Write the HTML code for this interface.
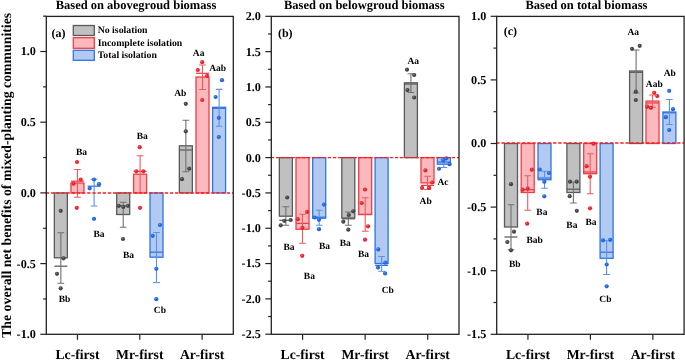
<!DOCTYPE html><html><head><meta charset="utf-8"><style>html,body{margin:0;padding:0;background:#fff;}svg{display:block;will-change:transform;}text{font-family:"Liberation Serif",serif;font-weight:bold;fill:#000;text-rendering:geometricPrecision;}</style></head><body>
<svg width="685" height="360" viewBox="0 0 685 360">
<rect x="0" y="0" width="685" height="360" fill="#fff"/>
<text transform="translate(10.6,175.35) rotate(-90)" text-anchor="middle" font-size="13.8">The overall net benefits of mixed-planting communities</text>
<text x="55.7" y="9.0" font-size="12.5">Based on abovegroud biomass</text>
<text x="51.5" y="37.4" font-size="12">(a)</text>
<rect x="54.35" y="192.90" width="13.0" height="64.90" fill="#c0c0c0" stroke="#5a5a5a" stroke-width="1.3"/>
<line x1="54.35" x2="67.35" y1="266.2" y2="266.2" stroke="#5a5a5a" stroke-width="1.25"/>
<path d="M60.85 232.8V283.3M57.50 232.8H64.20M57.50 283.3H64.20" stroke="#707070" stroke-width="1.1" fill="none"/>
<circle cx="60.7" cy="210.8" r="2.1" fill="#444444"/><circle cx="60.20" cy="210.20" r="0.75" fill="#fff" fill-opacity="0.3"/>
<circle cx="63.5" cy="258.3" r="2.1" fill="#444444"/><circle cx="63.00" cy="257.70" r="0.75" fill="#fff" fill-opacity="0.3"/>
<circle cx="57" cy="273.8" r="2.1" fill="#444444"/><circle cx="56.50" cy="273.20" r="0.75" fill="#fff" fill-opacity="0.3"/>
<circle cx="60.7" cy="288.3" r="2.1" fill="#444444"/><circle cx="60.20" cy="287.70" r="0.75" fill="#fff" fill-opacity="0.3"/>
<text x="58.7" y="302.2" font-size="9.5">Bb</text>
<rect x="70.95" y="183.00" width="13.0" height="9.90" fill="#fcb9bd" stroke="#ee3d47" stroke-width="1.3"/>
<line x1="70.95" x2="83.95" y1="181.2" y2="181.2" stroke="#ee3d47" stroke-width="1.25"/>
<path d="M77.45 169.5V197.2M74.10 169.5H80.80M74.10 197.2H80.80" stroke="#f0585e" stroke-width="1.1" fill="none"/>
<circle cx="77" cy="162" r="2.1" fill="#e8232c"/><circle cx="76.50" cy="161.40" r="0.75" fill="#fff" fill-opacity="0.3"/>
<circle cx="80.7" cy="179.5" r="2.1" fill="#e8232c"/><circle cx="80.20" cy="178.90" r="0.75" fill="#fff" fill-opacity="0.3"/>
<circle cx="73.5" cy="183.7" r="2.1" fill="#e8232c"/><circle cx="73.00" cy="183.10" r="0.75" fill="#fff" fill-opacity="0.3"/>
<circle cx="76.8" cy="207.8" r="2.1" fill="#e8232c"/><circle cx="76.30" cy="207.20" r="0.75" fill="#fff" fill-opacity="0.3"/>
<text x="76.0" y="154.7" font-size="9.5">Ba</text>
<line x1="87.60" x2="100.60" y1="186.2" y2="186.2" stroke="#2f74e0" stroke-width="1.25"/>
<path d="M94.10 179.2V206.0M90.75 179.2H97.45M90.75 206.0H97.45" stroke="#5b93ea" stroke-width="1.1" fill="none"/>
<circle cx="94" cy="179.5" r="2.1" fill="#1f66e2"/><circle cx="93.50" cy="178.90" r="0.75" fill="#fff" fill-opacity="0.3"/>
<circle cx="99" cy="184.2" r="2.1" fill="#1f66e2"/><circle cx="98.50" cy="183.60" r="0.75" fill="#fff" fill-opacity="0.3"/>
<circle cx="89.7" cy="188.3" r="2.1" fill="#1f66e2"/><circle cx="89.20" cy="187.70" r="0.75" fill="#fff" fill-opacity="0.3"/>
<circle cx="94" cy="218.8" r="2.1" fill="#1f66e2"/><circle cx="93.50" cy="218.20" r="0.75" fill="#fff" fill-opacity="0.3"/>
<text x="93.5" y="236.7" font-size="9.5">Ba</text>
<rect x="116.70" y="192.90" width="13.0" height="21.60" fill="#c0c0c0" stroke="#5a5a5a" stroke-width="1.3"/>
<line x1="116.70" x2="129.70" y1="205.8" y2="205.8" stroke="#5a5a5a" stroke-width="1.25"/>
<path d="M123.20 202.2V227.2M119.85 202.2H126.55M119.85 227.2H126.55" stroke="#707070" stroke-width="1.1" fill="none"/>
<circle cx="118.8" cy="205.8" r="2.1" fill="#444444"/><circle cx="118.30" cy="205.20" r="0.75" fill="#fff" fill-opacity="0.3"/>
<circle cx="123.3" cy="207" r="2.1" fill="#444444"/><circle cx="122.80" cy="206.40" r="0.75" fill="#fff" fill-opacity="0.3"/>
<circle cx="128" cy="205.8" r="2.1" fill="#444444"/><circle cx="127.50" cy="205.20" r="0.75" fill="#fff" fill-opacity="0.3"/>
<circle cx="123" cy="239" r="2.1" fill="#444444"/><circle cx="122.50" cy="238.40" r="0.75" fill="#fff" fill-opacity="0.3"/>
<text x="123.0" y="258.3" font-size="9.5">Ba</text>
<rect x="133.60" y="174.20" width="13.0" height="18.70" fill="#fcb9bd" stroke="#ee3d47" stroke-width="1.3"/>
<line x1="133.60" x2="146.60" y1="171.3" y2="171.3" stroke="#ee3d47" stroke-width="1.25"/>
<path d="M140.10 155.8V192.6M136.75 155.8H143.45M136.75 192.6H143.45" stroke="#f0585e" stroke-width="1.1" fill="none"/>
<circle cx="139.7" cy="147.2" r="2.1" fill="#e8232c"/><circle cx="139.20" cy="146.60" r="0.75" fill="#fff" fill-opacity="0.3"/>
<circle cx="136.3" cy="171.3" r="2.1" fill="#e8232c"/><circle cx="135.80" cy="170.70" r="0.75" fill="#fff" fill-opacity="0.3"/>
<circle cx="143.3" cy="171.3" r="2.1" fill="#e8232c"/><circle cx="142.80" cy="170.70" r="0.75" fill="#fff" fill-opacity="0.3"/>
<circle cx="140" cy="207.8" r="2.1" fill="#e8232c"/><circle cx="139.50" cy="207.20" r="0.75" fill="#fff" fill-opacity="0.3"/>
<text x="136.7" y="138.7" font-size="9.5">Ba</text>
<rect x="150.00" y="192.90" width="13.0" height="64.30" fill="#b2c9f1" stroke="#2f74e0" stroke-width="1.3"/>
<line x1="150.00" x2="163.00" y1="252.2" y2="252.2" stroke="#2f74e0" stroke-width="1.25"/>
<path d="M156.50 232.5V282.5M153.15 232.5H159.85M153.15 282.5H159.85" stroke="#5b93ea" stroke-width="1.1" fill="none"/>
<circle cx="160" cy="225" r="2.1" fill="#1f66e2"/><circle cx="159.50" cy="224.40" r="0.75" fill="#fff" fill-opacity="0.3"/>
<circle cx="152.7" cy="235.8" r="2.1" fill="#1f66e2"/><circle cx="152.20" cy="235.20" r="0.75" fill="#fff" fill-opacity="0.3"/>
<circle cx="156.3" cy="268.8" r="2.1" fill="#1f66e2"/><circle cx="155.80" cy="268.20" r="0.75" fill="#fff" fill-opacity="0.3"/>
<circle cx="156.3" cy="299.2" r="2.1" fill="#1f66e2"/><circle cx="155.80" cy="298.60" r="0.75" fill="#fff" fill-opacity="0.3"/>
<text x="153.8" y="313.3" font-size="9.5">Cb</text>
<rect x="179.35" y="145.80" width="13.0" height="47.10" fill="#c0c0c0" stroke="#5a5a5a" stroke-width="1.3"/>
<line x1="179.35" x2="192.35" y1="150.0" y2="150.0" stroke="#5a5a5a" stroke-width="1.25"/>
<path d="M185.85 120.3V171.7M182.50 120.3H189.20M182.50 171.7H189.20" stroke="#707070" stroke-width="1.1" fill="none"/>
<circle cx="185.8" cy="103.8" r="2.1" fill="#444444"/><circle cx="185.30" cy="103.20" r="0.75" fill="#fff" fill-opacity="0.3"/>
<circle cx="185.8" cy="131.3" r="2.1" fill="#444444"/><circle cx="185.30" cy="130.70" r="0.75" fill="#fff" fill-opacity="0.3"/>
<circle cx="189.2" cy="168.7" r="2.1" fill="#444444"/><circle cx="188.70" cy="168.10" r="0.75" fill="#fff" fill-opacity="0.3"/>
<circle cx="182" cy="179.2" r="2.1" fill="#444444"/><circle cx="181.50" cy="178.60" r="0.75" fill="#fff" fill-opacity="0.3"/>
<text x="174.2" y="95.5" font-size="9.5">Ab</text>
<rect x="196.00" y="77.00" width="13.0" height="115.90" fill="#fcb9bd" stroke="#ee3d47" stroke-width="1.3"/>
<line x1="196.00" x2="209.00" y1="73.3" y2="73.3" stroke="#ee3d47" stroke-width="1.25"/>
<path d="M202.50 65.0V89.5M199.15 65.0H205.85M199.15 89.5H205.85" stroke="#f0585e" stroke-width="1.1" fill="none"/>
<circle cx="202.2" cy="62.2" r="2.1" fill="#e8232c"/><circle cx="201.70" cy="61.60" r="0.75" fill="#fff" fill-opacity="0.3"/>
<circle cx="197.8" cy="70" r="2.1" fill="#e8232c"/><circle cx="197.30" cy="69.40" r="0.75" fill="#fff" fill-opacity="0.3"/>
<circle cx="207" cy="75.8" r="2.1" fill="#e8232c"/><circle cx="206.50" cy="75.20" r="0.75" fill="#fff" fill-opacity="0.3"/>
<circle cx="202.2" cy="100" r="2.1" fill="#e8232c"/><circle cx="201.70" cy="99.40" r="0.75" fill="#fff" fill-opacity="0.3"/>
<text x="192.8" y="55.8" font-size="9.5">Aa</text>
<rect x="212.60" y="107.30" width="13.0" height="85.60" fill="#b2c9f1" stroke="#2f74e0" stroke-width="1.3"/>
<line x1="212.60" x2="225.60" y1="108.3" y2="108.3" stroke="#2f74e0" stroke-width="1.25"/>
<path d="M219.10 89.4V126.2M215.75 89.4H222.45M215.75 126.2H222.45" stroke="#5b93ea" stroke-width="1.1" fill="none"/>
<circle cx="222" cy="80.2" r="2.1" fill="#1f66e2"/><circle cx="221.50" cy="79.60" r="0.75" fill="#fff" fill-opacity="0.3"/>
<circle cx="215.6" cy="97" r="2.1" fill="#1f66e2"/><circle cx="215.10" cy="96.40" r="0.75" fill="#fff" fill-opacity="0.3"/>
<circle cx="218.8" cy="117.8" r="2.1" fill="#1f66e2"/><circle cx="218.30" cy="117.20" r="0.75" fill="#fff" fill-opacity="0.3"/>
<circle cx="218.8" cy="137" r="2.1" fill="#1f66e2"/><circle cx="218.30" cy="136.40" r="0.75" fill="#fff" fill-opacity="0.3"/>
<text x="209.2" y="71.2" font-size="9.5">Aab</text>
<line x1="45.8" x2="233.3" y1="193.0" y2="193.0" stroke="#fa1e1e" stroke-width="1.4" stroke-dasharray="3.35 1.82"/>
<rect x="46.3" y="16.4" width="187.00" height="317.90" fill="none" stroke="#222" stroke-width="1.3"/>
<line x1="40.30" x2="46.3" y1="334.30" y2="334.30" stroke="#222" stroke-width="1.2"/>
<text x="35.90" y="338.20" font-size="12.2" text-anchor="end">-1.0</text>
<line x1="43.10" x2="46.3" y1="298.95" y2="298.95" stroke="#222" stroke-width="1.2"/>
<line x1="40.30" x2="46.3" y1="263.60" y2="263.60" stroke="#222" stroke-width="1.2"/>
<text x="35.90" y="267.50" font-size="12.2" text-anchor="end">-0.5</text>
<line x1="43.10" x2="46.3" y1="228.25" y2="228.25" stroke="#222" stroke-width="1.2"/>
<line x1="40.30" x2="46.3" y1="192.90" y2="192.90" stroke="#222" stroke-width="1.2"/>
<text x="35.90" y="196.80" font-size="12.2" text-anchor="end">0.0</text>
<line x1="43.10" x2="46.3" y1="157.55" y2="157.55" stroke="#222" stroke-width="1.2"/>
<line x1="40.30" x2="46.3" y1="122.20" y2="122.20" stroke="#222" stroke-width="1.2"/>
<text x="35.90" y="126.10" font-size="12.2" text-anchor="end">0.5</text>
<line x1="43.10" x2="46.3" y1="86.85" y2="86.85" stroke="#222" stroke-width="1.2"/>
<line x1="40.30" x2="46.3" y1="51.50" y2="51.50" stroke="#222" stroke-width="1.2"/>
<text x="35.90" y="55.40" font-size="12.2" text-anchor="end">1.0</text>
<line x1="43.10" x2="46.3" y1="16.15" y2="16.15" stroke="#222" stroke-width="1.2"/>
<line x1="77.47" x2="77.47" y1="334.3" y2="339.8" stroke="#222" stroke-width="1.2"/>
<text x="77.47" y="358.9" font-size="13.7" text-anchor="middle">Lc-first</text>
<line x1="139.80" x2="139.80" y1="334.3" y2="339.8" stroke="#222" stroke-width="1.2"/>
<text x="139.80" y="358.9" font-size="13.7" text-anchor="middle">Mr-first</text>
<line x1="202.13" x2="202.13" y1="334.3" y2="339.8" stroke="#222" stroke-width="1.2"/>
<text x="202.13" y="358.9" font-size="13.7" text-anchor="middle">Ar-first</text>
<text x="284.0" y="9.0" font-size="12.5">Based on belowgroud biomass</text>
<text x="277.9" y="36.9" font-size="12">(b)</text>
<rect x="279.35" y="157.60" width="13.0" height="58.60" fill="#c0c0c0" stroke="#5a5a5a" stroke-width="1.3"/>
<line x1="279.35" x2="292.35" y1="220.3" y2="220.3" stroke="#5a5a5a" stroke-width="1.25"/>
<path d="M285.85 206.7V225.3M282.50 206.7H289.20M282.50 225.3H289.20" stroke="#707070" stroke-width="1.1" fill="none"/>
<circle cx="287.2" cy="197.5" r="2.1" fill="#444444"/><circle cx="286.70" cy="196.90" r="0.75" fill="#fff" fill-opacity="0.3"/>
<circle cx="290.7" cy="220" r="2.1" fill="#444444"/><circle cx="290.20" cy="219.40" r="0.75" fill="#fff" fill-opacity="0.3"/>
<circle cx="284.3" cy="220.8" r="2.1" fill="#444444"/><circle cx="283.80" cy="220.20" r="0.75" fill="#fff" fill-opacity="0.3"/>
<circle cx="280.7" cy="225.3" r="2.1" fill="#444444"/><circle cx="280.20" cy="224.70" r="0.75" fill="#fff" fill-opacity="0.3"/>
<text x="283.5" y="250.0" font-size="9.5">Ba</text>
<rect x="296.00" y="157.60" width="13.0" height="71.60" fill="#fcb9bd" stroke="#ee3d47" stroke-width="1.3"/>
<line x1="296.00" x2="309.00" y1="223.4" y2="223.4" stroke="#ee3d47" stroke-width="1.25"/>
<path d="M302.50 214.2V243.3M299.15 214.2H305.85M299.15 243.3H305.85" stroke="#f0585e" stroke-width="1.1" fill="none"/>
<circle cx="307.2" cy="211.9" r="2.1" fill="#e8232c"/><circle cx="306.70" cy="211.30" r="0.75" fill="#fff" fill-opacity="0.3"/>
<circle cx="297.8" cy="219.2" r="2.1" fill="#e8232c"/><circle cx="297.30" cy="218.60" r="0.75" fill="#fff" fill-opacity="0.3"/>
<circle cx="302.4" cy="227.8" r="2.1" fill="#e8232c"/><circle cx="301.90" cy="227.20" r="0.75" fill="#fff" fill-opacity="0.3"/>
<circle cx="302.2" cy="255.8" r="2.1" fill="#e8232c"/><circle cx="301.70" cy="255.20" r="0.75" fill="#fff" fill-opacity="0.3"/>
<text x="303.8" y="279.3" font-size="9.5">Ba</text>
<rect x="312.70" y="157.60" width="13.0" height="60.60" fill="#b2c9f1" stroke="#2f74e0" stroke-width="1.3"/>
<line x1="312.70" x2="325.70" y1="217.2" y2="217.2" stroke="#2f74e0" stroke-width="1.25"/>
<path d="M319.20 210.3V225.3M315.85 210.3H322.55M315.85 225.3H322.55" stroke="#5b93ea" stroke-width="1.1" fill="none"/>
<circle cx="324" cy="204.6" r="2.1" fill="#1f66e2"/><circle cx="323.50" cy="204.00" r="0.75" fill="#fff" fill-opacity="0.3"/>
<circle cx="314.7" cy="217.5" r="2.1" fill="#1f66e2"/><circle cx="314.20" cy="216.90" r="0.75" fill="#fff" fill-opacity="0.3"/>
<circle cx="319" cy="219.7" r="2.1" fill="#1f66e2"/><circle cx="318.50" cy="219.10" r="0.75" fill="#fff" fill-opacity="0.3"/>
<circle cx="319" cy="229.2" r="2.1" fill="#1f66e2"/><circle cx="318.50" cy="228.60" r="0.75" fill="#fff" fill-opacity="0.3"/>
<text x="319.0" y="248.7" font-size="9.5">Ba</text>
<rect x="341.80" y="157.60" width="13.0" height="60.40" fill="#c0c0c0" stroke="#5a5a5a" stroke-width="1.3"/>
<line x1="341.80" x2="354.80" y1="218.8" y2="218.8" stroke="#5a5a5a" stroke-width="1.25"/>
<path d="M348.30 212.0V225.3M344.95 212.0H351.65M344.95 225.3H351.65" stroke="#707070" stroke-width="1.1" fill="none"/>
<circle cx="353.3" cy="211.3" r="2.1" fill="#444444"/><circle cx="352.80" cy="210.70" r="0.75" fill="#fff" fill-opacity="0.3"/>
<circle cx="348.8" cy="215" r="2.1" fill="#444444"/><circle cx="348.30" cy="214.40" r="0.75" fill="#fff" fill-opacity="0.3"/>
<circle cx="343.3" cy="221.7" r="2.1" fill="#444444"/><circle cx="342.80" cy="221.10" r="0.75" fill="#fff" fill-opacity="0.3"/>
<circle cx="348.3" cy="229.7" r="2.1" fill="#444444"/><circle cx="347.80" cy="229.10" r="0.75" fill="#fff" fill-opacity="0.3"/>
<text x="339.7" y="246.3" font-size="9.5">Ba</text>
<rect x="358.70" y="157.60" width="13.0" height="56.90" fill="#fcb9bd" stroke="#ee3d47" stroke-width="1.3"/>
<line x1="358.70" x2="371.70" y1="214.5" y2="214.5" stroke="#ee3d47" stroke-width="1.25"/>
<path d="M365.20 197.8V231.2M361.85 197.8H368.55M361.85 231.2H368.55" stroke="#f0585e" stroke-width="1.1" fill="none"/>
<circle cx="365" cy="189.5" r="2.1" fill="#e8232c"/><circle cx="364.50" cy="188.90" r="0.75" fill="#fff" fill-opacity="0.3"/>
<circle cx="361.7" cy="203" r="2.1" fill="#e8232c"/><circle cx="361.20" cy="202.40" r="0.75" fill="#fff" fill-opacity="0.3"/>
<circle cx="368" cy="226.3" r="2.1" fill="#e8232c"/><circle cx="367.50" cy="225.70" r="0.75" fill="#fff" fill-opacity="0.3"/>
<circle cx="365" cy="239.7" r="2.1" fill="#e8232c"/><circle cx="364.50" cy="239.10" r="0.75" fill="#fff" fill-opacity="0.3"/>
<text x="358.0" y="257.2" font-size="9.5">Ba</text>
<rect x="375.10" y="157.60" width="13.0" height="105.90" fill="#b2c9f1" stroke="#2f74e0" stroke-width="1.3"/>
<line x1="375.10" x2="388.10" y1="265.4" y2="265.4" stroke="#2f74e0" stroke-width="1.25"/>
<path d="M381.60 256.5V271.3M378.25 256.5H384.95M378.25 271.3H384.95" stroke="#5b93ea" stroke-width="1.1" fill="none"/>
<circle cx="378.3" cy="249.4" r="2.1" fill="#1f66e2"/><circle cx="377.80" cy="248.80" r="0.75" fill="#fff" fill-opacity="0.3"/>
<circle cx="385.4" cy="262.7" r="2.1" fill="#1f66e2"/><circle cx="384.90" cy="262.10" r="0.75" fill="#fff" fill-opacity="0.3"/>
<circle cx="378" cy="267.6" r="2.1" fill="#1f66e2"/><circle cx="377.50" cy="267.00" r="0.75" fill="#fff" fill-opacity="0.3"/>
<circle cx="385.1" cy="273.4" r="2.1" fill="#1f66e2"/><circle cx="384.60" cy="272.80" r="0.75" fill="#fff" fill-opacity="0.3"/>
<text x="381.7" y="292.5" font-size="9.5">Cb</text>
<rect x="404.40" y="82.80" width="13.0" height="74.80" fill="#c0c0c0" stroke="#5a5a5a" stroke-width="1.3"/>
<line x1="404.40" x2="417.40" y1="84.0" y2="84.0" stroke="#5a5a5a" stroke-width="1.25"/>
<path d="M410.90 73.7V92.5M407.55 73.7H414.25M407.55 92.5H414.25" stroke="#707070" stroke-width="1.1" fill="none"/>
<circle cx="407" cy="69.7" r="2.1" fill="#444444"/><circle cx="406.50" cy="69.10" r="0.75" fill="#fff" fill-opacity="0.3"/>
<circle cx="414.2" cy="75" r="2.1" fill="#444444"/><circle cx="413.70" cy="74.40" r="0.75" fill="#fff" fill-opacity="0.3"/>
<circle cx="407.5" cy="90" r="2.1" fill="#444444"/><circle cx="407.00" cy="89.40" r="0.75" fill="#fff" fill-opacity="0.3"/>
<circle cx="414.2" cy="97.5" r="2.1" fill="#444444"/><circle cx="413.70" cy="96.90" r="0.75" fill="#fff" fill-opacity="0.3"/>
<text x="407.5" y="64.2" font-size="9.5">Aa</text>
<rect x="421.00" y="157.60" width="13.0" height="25.30" fill="#fcb9bd" stroke="#ee3d47" stroke-width="1.3"/>
<line x1="421.00" x2="434.00" y1="185.4" y2="185.4" stroke="#ee3d47" stroke-width="1.25"/>
<path d="M427.50 176.3V189.5M424.15 176.3H430.85M424.15 189.5H430.85" stroke="#f0585e" stroke-width="1.1" fill="none"/>
<circle cx="425.4" cy="170.4" r="2.1" fill="#e8232c"/><circle cx="424.90" cy="169.80" r="0.75" fill="#fff" fill-opacity="0.3"/>
<circle cx="432.1" cy="182.5" r="2.1" fill="#e8232c"/><circle cx="431.60" cy="181.90" r="0.75" fill="#fff" fill-opacity="0.3"/>
<circle cx="422.1" cy="187.9" r="2.1" fill="#e8232c"/><circle cx="421.60" cy="187.30" r="0.75" fill="#fff" fill-opacity="0.3"/>
<circle cx="429.2" cy="187.9" r="2.1" fill="#e8232c"/><circle cx="428.70" cy="187.30" r="0.75" fill="#fff" fill-opacity="0.3"/>
<text x="419.6" y="203.9" font-size="9.5">Ab</text>
<rect x="437.30" y="157.60" width="13.0" height="6.60" fill="#b2c9f1" stroke="#2f74e0" stroke-width="1.3"/>
<line x1="437.30" x2="450.30" y1="162.0" y2="162.0" stroke="#2f74e0" stroke-width="1.25"/>
<path d="M443.80 159.2V167.5M440.45 159.2H447.15M440.45 167.5H447.15" stroke="#5b93ea" stroke-width="1.1" fill="none"/>
<circle cx="446.25" cy="158.3" r="2.1" fill="#1f66e2"/><circle cx="445.75" cy="157.70" r="0.75" fill="#fff" fill-opacity="0.3"/>
<circle cx="449.6" cy="164.2" r="2.1" fill="#1f66e2"/><circle cx="449.10" cy="163.60" r="0.75" fill="#fff" fill-opacity="0.3"/>
<circle cx="439" cy="168.75" r="2.1" fill="#1f66e2"/><circle cx="438.50" cy="168.15" r="0.75" fill="#fff" fill-opacity="0.3"/>
<circle cx="443.3" cy="160.4" r="2.1" fill="#1f66e2"/><circle cx="442.80" cy="159.80" r="0.75" fill="#fff" fill-opacity="0.3"/>
<text x="437.5" y="185.3" font-size="9.5">Ac</text>
<line x1="270.8" x2="459.0" y1="157.6" y2="157.6" stroke="#fa1e1e" stroke-width="1.4" stroke-dasharray="3.35 1.82"/>
<rect x="271.3" y="16.4" width="187.70" height="317.90" fill="none" stroke="#222" stroke-width="1.3"/>
<line x1="265.30" x2="271.3" y1="334.20" y2="334.20" stroke="#222" stroke-width="1.2"/>
<text x="260.90" y="338.10" font-size="12.2" text-anchor="end">-2.5</text>
<line x1="268.10" x2="271.3" y1="316.54" y2="316.54" stroke="#222" stroke-width="1.2"/>
<line x1="265.30" x2="271.3" y1="298.88" y2="298.88" stroke="#222" stroke-width="1.2"/>
<text x="260.90" y="302.78" font-size="12.2" text-anchor="end">-2.0</text>
<line x1="268.10" x2="271.3" y1="281.22" y2="281.22" stroke="#222" stroke-width="1.2"/>
<line x1="265.30" x2="271.3" y1="263.56" y2="263.56" stroke="#222" stroke-width="1.2"/>
<text x="260.90" y="267.46" font-size="12.2" text-anchor="end">-1.5</text>
<line x1="268.10" x2="271.3" y1="245.90" y2="245.90" stroke="#222" stroke-width="1.2"/>
<line x1="265.30" x2="271.3" y1="228.24" y2="228.24" stroke="#222" stroke-width="1.2"/>
<text x="260.90" y="232.14" font-size="12.2" text-anchor="end">-1.0</text>
<line x1="268.10" x2="271.3" y1="210.58" y2="210.58" stroke="#222" stroke-width="1.2"/>
<line x1="265.30" x2="271.3" y1="192.92" y2="192.92" stroke="#222" stroke-width="1.2"/>
<text x="260.90" y="196.82" font-size="12.2" text-anchor="end">-0.5</text>
<line x1="268.10" x2="271.3" y1="175.26" y2="175.26" stroke="#222" stroke-width="1.2"/>
<line x1="265.30" x2="271.3" y1="157.60" y2="157.60" stroke="#222" stroke-width="1.2"/>
<text x="260.90" y="161.50" font-size="12.2" text-anchor="end">0.0</text>
<line x1="268.10" x2="271.3" y1="139.94" y2="139.94" stroke="#222" stroke-width="1.2"/>
<line x1="265.30" x2="271.3" y1="122.28" y2="122.28" stroke="#222" stroke-width="1.2"/>
<text x="260.90" y="126.18" font-size="12.2" text-anchor="end">0.5</text>
<line x1="268.10" x2="271.3" y1="104.62" y2="104.62" stroke="#222" stroke-width="1.2"/>
<line x1="265.30" x2="271.3" y1="86.96" y2="86.96" stroke="#222" stroke-width="1.2"/>
<text x="260.90" y="90.86" font-size="12.2" text-anchor="end">1.0</text>
<line x1="268.10" x2="271.3" y1="69.30" y2="69.30" stroke="#222" stroke-width="1.2"/>
<line x1="265.30" x2="271.3" y1="51.64" y2="51.64" stroke="#222" stroke-width="1.2"/>
<text x="260.90" y="55.54" font-size="12.2" text-anchor="end">1.5</text>
<line x1="268.10" x2="271.3" y1="33.98" y2="33.98" stroke="#222" stroke-width="1.2"/>
<line x1="265.30" x2="271.3" y1="16.32" y2="16.32" stroke="#222" stroke-width="1.2"/>
<text x="260.90" y="20.22" font-size="12.2" text-anchor="end">2.0</text>
<line x1="302.58" x2="302.58" y1="334.3" y2="339.8" stroke="#222" stroke-width="1.2"/>
<text x="302.58" y="358.9" font-size="13.7" text-anchor="middle">Lc-first</text>
<line x1="365.15" x2="365.15" y1="334.3" y2="339.8" stroke="#222" stroke-width="1.2"/>
<text x="365.15" y="358.9" font-size="13.7" text-anchor="middle">Mr-first</text>
<line x1="427.72" x2="427.72" y1="334.3" y2="339.8" stroke="#222" stroke-width="1.2"/>
<text x="427.72" y="358.9" font-size="13.7" text-anchor="middle">Ar-first</text>
<text x="525.5" y="9.0" font-size="12.5">Based on total biomass</text>
<text x="503.7" y="35.1" font-size="12">(c)</text>
<rect x="504.50" y="143.50" width="13.0" height="83.50" fill="#c0c0c0" stroke="#5a5a5a" stroke-width="1.3"/>
<line x1="504.50" x2="517.50" y1="237.0" y2="237.0" stroke="#5a5a5a" stroke-width="1.25"/>
<path d="M511.00 204.7V249.7M507.65 204.7H514.35M507.65 249.7H514.35" stroke="#707070" stroke-width="1.1" fill="none"/>
<circle cx="511" cy="184.2" r="2.1" fill="#444444"/><circle cx="510.50" cy="183.60" r="0.75" fill="#fff" fill-opacity="0.3"/>
<circle cx="514" cy="231.7" r="2.1" fill="#444444"/><circle cx="513.50" cy="231.10" r="0.75" fill="#fff" fill-opacity="0.3"/>
<circle cx="507.3" cy="242" r="2.1" fill="#444444"/><circle cx="506.80" cy="241.40" r="0.75" fill="#fff" fill-opacity="0.3"/>
<circle cx="511" cy="250.3" r="2.1" fill="#444444"/><circle cx="510.50" cy="249.70" r="0.75" fill="#fff" fill-opacity="0.3"/>
<text x="509.0" y="266.7" font-size="9.5">Bb</text>
<rect x="521.20" y="143.50" width="13.0" height="49.00" fill="#fcb9bd" stroke="#ee3d47" stroke-width="1.3"/>
<line x1="521.20" x2="534.20" y1="189.7" y2="189.7" stroke="#ee3d47" stroke-width="1.25"/>
<path d="M527.70 175.8V210.3M524.35 175.8H531.05M524.35 210.3H531.05" stroke="#f0585e" stroke-width="1.1" fill="none"/>
<circle cx="531.8" cy="169.7" r="2.1" fill="#e8232c"/><circle cx="531.30" cy="169.10" r="0.75" fill="#fff" fill-opacity="0.3"/>
<circle cx="522.7" cy="189.7" r="2.1" fill="#e8232c"/><circle cx="522.20" cy="189.10" r="0.75" fill="#fff" fill-opacity="0.3"/>
<circle cx="527.7" cy="188.7" r="2.1" fill="#e8232c"/><circle cx="527.20" cy="188.10" r="0.75" fill="#fff" fill-opacity="0.3"/>
<circle cx="527.2" cy="223.7" r="2.1" fill="#e8232c"/><circle cx="526.70" cy="223.10" r="0.75" fill="#fff" fill-opacity="0.3"/>
<text x="526.5" y="243.0" font-size="9.5">Bab</text>
<rect x="538.00" y="143.50" width="13.0" height="36.20" fill="#b2c9f1" stroke="#2f74e0" stroke-width="1.3"/>
<line x1="538.00" x2="551.00" y1="178.0" y2="178.0" stroke="#2f74e0" stroke-width="1.25"/>
<path d="M544.50 171.3V188.3M541.15 171.3H547.85M541.15 188.3H547.85" stroke="#5b93ea" stroke-width="1.1" fill="none"/>
<circle cx="539.7" cy="169.5" r="2.1" fill="#1f66e2"/><circle cx="539.20" cy="168.90" r="0.75" fill="#fff" fill-opacity="0.3"/>
<circle cx="549" cy="173" r="2.1" fill="#1f66e2"/><circle cx="548.50" cy="172.40" r="0.75" fill="#fff" fill-opacity="0.3"/>
<circle cx="544.3" cy="181.7" r="2.1" fill="#1f66e2"/><circle cx="543.80" cy="181.10" r="0.75" fill="#fff" fill-opacity="0.3"/>
<circle cx="544.3" cy="196.3" r="2.1" fill="#1f66e2"/><circle cx="543.80" cy="195.70" r="0.75" fill="#fff" fill-opacity="0.3"/>
<text x="536.3" y="214.5" font-size="9.5">Ba</text>
<rect x="566.90" y="143.50" width="13.0" height="49.00" fill="#c0c0c0" stroke="#5a5a5a" stroke-width="1.3"/>
<line x1="566.90" x2="579.90" y1="189.2" y2="189.2" stroke="#5a5a5a" stroke-width="1.25"/>
<path d="M573.40 182.0V203.0M570.05 182.0H576.75M570.05 203.0H576.75" stroke="#707070" stroke-width="1.1" fill="none"/>
<circle cx="570" cy="181.7" r="2.1" fill="#444444"/><circle cx="569.50" cy="181.10" r="0.75" fill="#fff" fill-opacity="0.3"/>
<circle cx="576.7" cy="181.7" r="2.1" fill="#444444"/><circle cx="576.20" cy="181.10" r="0.75" fill="#fff" fill-opacity="0.3"/>
<circle cx="569.7" cy="196.2" r="2.1" fill="#444444"/><circle cx="569.20" cy="195.60" r="0.75" fill="#fff" fill-opacity="0.3"/>
<circle cx="576.8" cy="210.8" r="2.1" fill="#444444"/><circle cx="576.30" cy="210.20" r="0.75" fill="#fff" fill-opacity="0.3"/>
<text x="566.3" y="227.5" font-size="9.5">Ba</text>
<rect x="583.70" y="143.50" width="13.0" height="30.20" fill="#fcb9bd" stroke="#ee3d47" stroke-width="1.3"/>
<line x1="583.70" x2="596.70" y1="172.0" y2="172.0" stroke="#ee3d47" stroke-width="1.25"/>
<path d="M590.20 153.8V193.7M586.85 153.8H593.55M586.85 193.7H593.55" stroke="#f0585e" stroke-width="1.1" fill="none"/>
<circle cx="593.5" cy="143.7" r="2.1" fill="#e8232c"/><circle cx="593.00" cy="143.10" r="0.75" fill="#fff" fill-opacity="0.3"/>
<circle cx="586.7" cy="166.2" r="2.1" fill="#e8232c"/><circle cx="586.20" cy="165.60" r="0.75" fill="#fff" fill-opacity="0.3"/>
<circle cx="590" cy="176.7" r="2.1" fill="#e8232c"/><circle cx="589.50" cy="176.10" r="0.75" fill="#fff" fill-opacity="0.3"/>
<circle cx="590" cy="208.3" r="2.1" fill="#e8232c"/><circle cx="589.50" cy="207.70" r="0.75" fill="#fff" fill-opacity="0.3"/>
<text x="585.5" y="225.0" font-size="9.5">Ba</text>
<rect x="600.10" y="143.50" width="13.0" height="114.80" fill="#b2c9f1" stroke="#2f74e0" stroke-width="1.3"/>
<line x1="600.10" x2="613.10" y1="252.2" y2="252.2" stroke="#2f74e0" stroke-width="1.25"/>
<path d="M606.60 240.8V274.5M603.25 240.8H609.95M603.25 274.5H609.95" stroke="#5b93ea" stroke-width="1.1" fill="none"/>
<circle cx="603" cy="240.3" r="2.1" fill="#1f66e2"/><circle cx="602.50" cy="239.70" r="0.75" fill="#fff" fill-opacity="0.3"/>
<circle cx="610.2" cy="239.8" r="2.1" fill="#1f66e2"/><circle cx="609.70" cy="239.20" r="0.75" fill="#fff" fill-opacity="0.3"/>
<circle cx="606.7" cy="264.5" r="2.1" fill="#1f66e2"/><circle cx="606.20" cy="263.90" r="0.75" fill="#fff" fill-opacity="0.3"/>
<circle cx="606.7" cy="286.3" r="2.1" fill="#1f66e2"/><circle cx="606.20" cy="285.70" r="0.75" fill="#fff" fill-opacity="0.3"/>
<text x="599.3" y="302.0" font-size="9.5">Cb</text>
<rect x="629.60" y="71.00" width="13.0" height="72.50" fill="#c0c0c0" stroke="#5a5a5a" stroke-width="1.3"/>
<line x1="629.60" x2="642.60" y1="72.3" y2="72.3" stroke="#5a5a5a" stroke-width="1.25"/>
<path d="M636.10 50.0V93.0M632.75 50.0H639.45M632.75 93.0H639.45" stroke="#707070" stroke-width="1.1" fill="none"/>
<circle cx="639.7" cy="45.8" r="2.1" fill="#444444"/><circle cx="639.20" cy="45.20" r="0.75" fill="#fff" fill-opacity="0.3"/>
<circle cx="632" cy="48.8" r="2.1" fill="#444444"/><circle cx="631.50" cy="48.20" r="0.75" fill="#fff" fill-opacity="0.3"/>
<circle cx="635.8" cy="91.7" r="2.1" fill="#444444"/><circle cx="635.30" cy="91.10" r="0.75" fill="#fff" fill-opacity="0.3"/>
<circle cx="635.8" cy="100" r="2.1" fill="#444444"/><circle cx="635.30" cy="99.40" r="0.75" fill="#fff" fill-opacity="0.3"/>
<text x="627.5" y="35.0" font-size="9.5">Aa</text>
<rect x="646.00" y="101.10" width="13.0" height="42.40" fill="#fcb9bd" stroke="#ee3d47" stroke-width="1.3"/>
<line x1="646.00" x2="659.00" y1="103.0" y2="103.0" stroke="#ee3d47" stroke-width="1.25"/>
<path d="M652.50 95.0V107.2M649.15 95.0H655.85M649.15 107.2H655.85" stroke="#f0585e" stroke-width="1.1" fill="none"/>
<circle cx="654.2" cy="92.8" r="2.1" fill="#e8232c"/><circle cx="653.70" cy="92.20" r="0.75" fill="#fff" fill-opacity="0.3"/>
<circle cx="657.2" cy="96.1" r="2.1" fill="#e8232c"/><circle cx="656.70" cy="95.50" r="0.75" fill="#fff" fill-opacity="0.3"/>
<circle cx="647.2" cy="106.7" r="2.1" fill="#e8232c"/><circle cx="646.70" cy="106.10" r="0.75" fill="#fff" fill-opacity="0.3"/>
<circle cx="650.9" cy="107.8" r="2.1" fill="#e8232c"/><circle cx="650.40" cy="107.20" r="0.75" fill="#fff" fill-opacity="0.3"/>
<text x="645.8" y="87.2" font-size="9.5">Aab</text>
<rect x="662.90" y="112.00" width="13.0" height="31.50" fill="#b2c9f1" stroke="#2f74e0" stroke-width="1.3"/>
<line x1="662.90" x2="675.90" y1="112.8" y2="112.8" stroke="#2f74e0" stroke-width="1.25"/>
<path d="M669.40 99.5V124.5M666.05 99.5H672.75M666.05 124.5H672.75" stroke="#5b93ea" stroke-width="1.1" fill="none"/>
<circle cx="669.2" cy="90.8" r="2.1" fill="#1f66e2"/><circle cx="668.70" cy="90.20" r="0.75" fill="#fff" fill-opacity="0.3"/>
<circle cx="673" cy="109.2" r="2.1" fill="#1f66e2"/><circle cx="672.50" cy="108.60" r="0.75" fill="#fff" fill-opacity="0.3"/>
<circle cx="665.8" cy="117.2" r="2.1" fill="#1f66e2"/><circle cx="665.30" cy="116.60" r="0.75" fill="#fff" fill-opacity="0.3"/>
<circle cx="669.2" cy="130" r="2.1" fill="#1f66e2"/><circle cx="668.70" cy="129.40" r="0.75" fill="#fff" fill-opacity="0.3"/>
<text x="663.7" y="75.5" font-size="9.5">Ab</text>
<line x1="496.2" x2="684.1" y1="143.05" y2="143.05" stroke="#fa1e1e" stroke-width="1.4" stroke-dasharray="3.35 1.82"/>
<rect x="496.7" y="16.4" width="187.40" height="317.90" fill="none" stroke="#222" stroke-width="1.3"/>
<line x1="490.70" x2="496.7" y1="334.30" y2="334.30" stroke="#222" stroke-width="1.2"/>
<text x="486.30" y="338.20" font-size="12.2" text-anchor="end">-1.5</text>
<line x1="493.50" x2="496.7" y1="302.50" y2="302.50" stroke="#222" stroke-width="1.2"/>
<line x1="490.70" x2="496.7" y1="270.70" y2="270.70" stroke="#222" stroke-width="1.2"/>
<text x="486.30" y="274.60" font-size="12.2" text-anchor="end">-1.0</text>
<line x1="493.50" x2="496.7" y1="238.90" y2="238.90" stroke="#222" stroke-width="1.2"/>
<line x1="490.70" x2="496.7" y1="207.10" y2="207.10" stroke="#222" stroke-width="1.2"/>
<text x="486.30" y="211.00" font-size="12.2" text-anchor="end">-0.5</text>
<line x1="493.50" x2="496.7" y1="175.30" y2="175.30" stroke="#222" stroke-width="1.2"/>
<line x1="490.70" x2="496.7" y1="143.50" y2="143.50" stroke="#222" stroke-width="1.2"/>
<text x="486.30" y="147.40" font-size="12.2" text-anchor="end">0.0</text>
<line x1="493.50" x2="496.7" y1="111.70" y2="111.70" stroke="#222" stroke-width="1.2"/>
<line x1="490.70" x2="496.7" y1="79.90" y2="79.90" stroke="#222" stroke-width="1.2"/>
<text x="486.30" y="83.80" font-size="12.2" text-anchor="end">0.5</text>
<line x1="493.50" x2="496.7" y1="48.10" y2="48.10" stroke="#222" stroke-width="1.2"/>
<line x1="490.70" x2="496.7" y1="16.30" y2="16.30" stroke="#222" stroke-width="1.2"/>
<text x="486.30" y="20.20" font-size="12.2" text-anchor="end">1.0</text>
<line x1="527.93" x2="527.93" y1="334.3" y2="339.8" stroke="#222" stroke-width="1.2"/>
<text x="527.93" y="358.9" font-size="13.7" text-anchor="middle">Lc-first</text>
<line x1="590.40" x2="590.40" y1="334.3" y2="339.8" stroke="#222" stroke-width="1.2"/>
<text x="590.40" y="358.9" font-size="13.7" text-anchor="middle">Mr-first</text>
<line x1="652.87" x2="652.87" y1="334.3" y2="339.8" stroke="#222" stroke-width="1.2"/>
<text x="652.87" y="358.9" font-size="13.7" text-anchor="middle">Ar-first</text>
<rect x="73.3" y="25.5" width="21" height="10" fill="#c0c0c0" stroke="#5a5a5a" stroke-width="1.3"/>
<text x="97.7" y="33.3" font-size="9.8">No isolation</text>
<rect x="73.3" y="37.7" width="21" height="10.6" fill="#fcb9bd" stroke="#ee3d47" stroke-width="1.3"/>
<text x="97.7" y="45.7" font-size="9.8">Incomplete isolation</text>
<rect x="73.3" y="50.3" width="21" height="10" fill="#b2c9f1" stroke="#2f74e0" stroke-width="1.3"/>
<text x="97.7" y="57.8" font-size="9.8">Total isolation</text>
</svg></body></html>
